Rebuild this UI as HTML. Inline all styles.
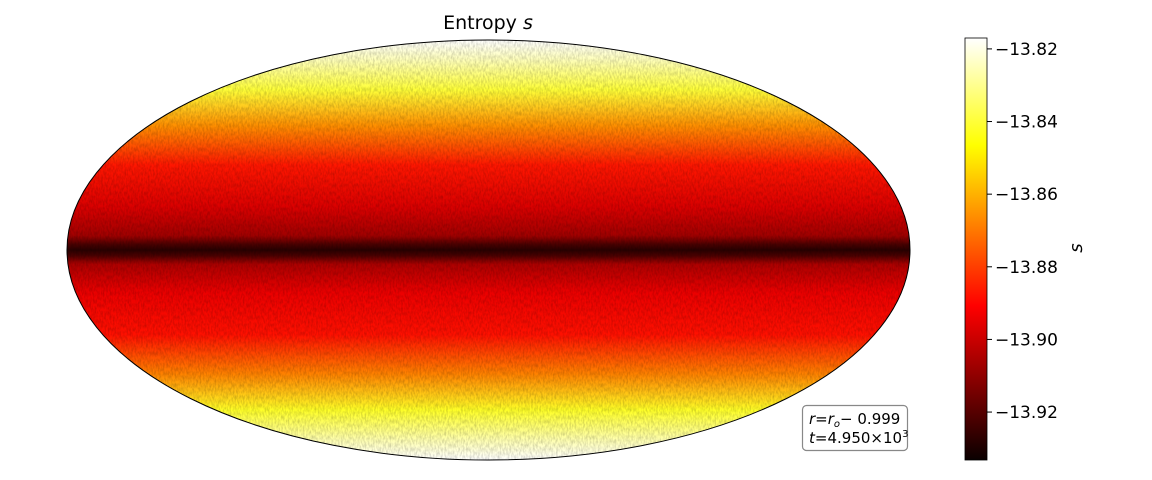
<!DOCTYPE html>
<html><head><meta charset="utf-8"><style>
body{margin:0;background:#fff;}
svg{display:block;font-family:"DejaVu Sans","Liberation Sans",sans-serif;}
</style></head><body>
<svg id="c" width="1152" height="480" viewBox="0 0 1152 480">
<defs>
<linearGradient id="cbg" x1="0" y1="1" x2="0" y2="0">
<stop offset="0" stop-color="#0a0000"/><stop offset="0.365" stop-color="#ff0000"/>
<stop offset="0.746" stop-color="#ffff00"/><stop offset="1" stop-color="#ffffff"/>
</linearGradient>
<clipPath id="ell"><ellipse cx="488.5" cy="250" rx="421.5" ry="210"/></clipPath>
<filter id="noise"><feTurbulence type="fractalNoise" baseFrequency="0.6 0.25" numOctaves="2" seed="3"/><feColorMatrix values="0 0 0 0 0  0 0 0 0 0  0 0 0 0 0  0 0 0 0.35 -0.12"/></filter>
</defs>
<text x="488" y="29" font-size="19" text-anchor="middle">Entropy <tspan font-style="italic">s</tspan></text>
<g id="map" clip-path="url(#ell)"></g>
<ellipse cx="488.5" cy="250" rx="421.5" ry="210" fill="none" stroke="#000" stroke-width="1"/>
<rect x="965" y="38" width="22" height="422" fill="url(#cbg)" stroke="#000" stroke-width="0.8"/>
<g id="cbt"></g>
<text transform="translate(1082,248) rotate(-90)" font-size="18" text-anchor="middle" font-style="italic">s</text>
<g>
<rect x="802.5" y="405.5" width="105" height="45" rx="4" fill="#fff" stroke="#888" stroke-width="1.2"/>
<text x="809" y="424" font-size="15"><tspan font-style="italic">r</tspan>=<tspan font-style="italic">r</tspan><tspan font-size="10" dy="3" font-style="italic">o</tspan><tspan dy="-3">−  0.999</tspan></text>
<text x="809" y="443" font-size="15"><tspan font-style="italic">t</tspan>=4.950×10<tspan font-size="10" dy="-6">3</tspan></text>
</g>
</svg>
<script>
const latitudes=[90,75,60,45,30,15,5,2,0,-2,-5,-15,-30,-45,-60,-75,-90];
const entropy=[-13.817,-13.825,-13.84,-13.866,-13.887,-13.897,-13.907,-13.922,-13.928,-13.922,-13.905,-13.894,-13.888,-13.868,-13.842,-13.826,-13.817];
const tickValues=[-13.82,-13.84,-13.86,-13.88,-13.90,-13.92];
const tickLabels=["−13.82","−13.84","−13.86","−13.88","−13.90","−13.92"];
const vmin=-13.9332,vmax=-13.8170;
const NS="http://www.w3.org/2000/svg";
const cy=250,ry=210,cbTop=38,cbBot=460;
function molY(lat){let phi=lat*Math.PI/180,t=phi;
 if(Math.abs(lat)>=90)return cy-Math.sign(lat)*ry;
 for(let i=0;i<50;i++){t-= (2*t+Math.sin(2*t)-Math.PI*Math.sin(phi))/(2+2*Math.cos(2*t));}
 return cy-ry*Math.sin(t);}
function hot(v){let f=Math.max(0,Math.min(1,(v-vmin)/(vmax-vmin)));
 let r=Math.min(1,0.04+f/0.365*0.96),g=Math.max(0,Math.min(1,(f-0.365)/0.381)),b=Math.max(0,Math.min(1,(f-0.746)/0.254));
 return `rgb(${Math.round(r*255)},${Math.round(g*255)},${Math.round(b*255)})`;}
function cbY(v){return cbBot-(v-vmin)/(vmax-vmin)*(cbBot-cbTop);}
const defs=document.querySelector('defs');
const lg=document.createElementNS(NS,'linearGradient');
lg.setAttribute('id','mapg');lg.setAttribute('gradientUnits','userSpaceOnUse');
lg.setAttribute('x1','0');lg.setAttribute('x2','0');lg.setAttribute('y1','40');lg.setAttribute('y2','460');
latitudes.forEach((lat,i)=>{const s=document.createElementNS(NS,'stop');
 s.setAttribute('offset',((molY(lat)-40)/420).toFixed(4));s.setAttribute('stop-color',hot(entropy[i]));lg.appendChild(s);});
defs.appendChild(lg);
const map=document.getElementById('map');
const bg=document.createElementNS(NS,'rect');


bg.setAttribute('x','60');bg.setAttribute('y','38');bg.setAttribute('width','860');bg.setAttribute('height','425');bg.setAttribute('fill','url(#mapg)');
map.appendChild(bg);
const nz=document.createElementNS(NS,'rect');


nz.setAttribute('x','60');nz.setAttribute('y','38');nz.setAttribute('width','860');nz.setAttribute('height','425');nz.setAttribute('filter','url(#noise)');
map.appendChild(nz);
const cbt=document.getElementById('cbt');
tickValues.forEach((v,i)=>{const y=cbY(v);
 const l=document.createElementNS(NS,'line');
 
 
 l.setAttribute('x1','987');l.setAttribute('x2','992');l.setAttribute('y1',y);l.setAttribute('y2',y);l.setAttribute('stroke','#000');
 cbt.appendChild(l);
 const t=document.createElementNS(NS,'text');
 
 
 t.setAttribute('x','995');t.setAttribute('y',y+6);t.setAttribute('font-size','17');t.textContent=tickLabels[i];
 cbt.appendChild(t);});
</script>
</body></html>
